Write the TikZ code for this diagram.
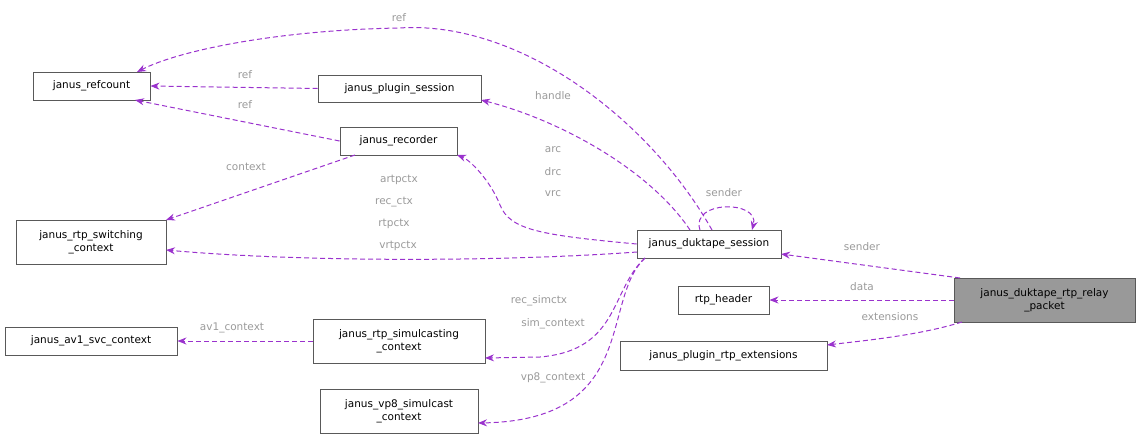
\documentclass[tikz,border=0pt]{standalone}
\usepackage{fontspec}
\setmainfont{DejaVu Sans}
\usetikzlibrary{arrows.meta}
\definecolor{ec}{HTML}{9A32CD}
\definecolor{lc}{HTML}{9A9A9A}
\begin{document}
\begin{tikzpicture}[x=1pt,y=-1pt,font=\fontsize{10.5}{12.5}\selectfont,
 box/.style={draw=black!65,line width=0.9pt,fill=white,inner sep=0pt,align=center},
 e/.style={draw=ec,line width=1pt,dash pattern=on 5pt off 3pt,-{Stealth[length=9pt,width=7pt]}},
 l/.style={text=lc,font=\fontsize{10.5}{12.5}\selectfont}]
\useasboundingbox (0,0) rectangle (1141,439);
\def\bx#1#2#3#4#5#6{\node[box,minimum width=#4-#2,minimum height=#5-#3] (#1) at ({(#2+#4)/2},{(#3+#5)/2}) {#6};}
\bx{rc}{33}{72}{150}{100}{janus\_refcount}
\bx{ps}{318}{75}{481}{102}{janus\_plugin\_session}
\bx{rec}{340}{127}{457}{155}{janus\_recorder}
\bx{sw}{16}{220}{166}{264}{janus\_rtp\_switching\\\_context}
\bx{ds}{637}{230}{781}{258}{janus\_duktape\_session}
\node[box,fill=black!40,minimum width=181,minimum height=44] (rp) at (1044.5,300) {janus\_duktape\_rtp\_relay\\\_packet};
\bx{rh}{678}{286}{769}{314}{rtp\_header}
\bx{ex}{620}{341}{827}{370}{janus\_plugin\_rtp\_extensions}
\bx{av}{5}{327}{177}{355}{janus\_av1\_svc\_context}
\bx{sc}{313}{319}{485}{363}{janus\_rtp\_simulcasting\\\_context}
\bx{vp}{320}{389}{478}{433}{janus\_vp8\_simulcast\\\_context}

\draw[e] (712,230) .. controls (650,120) and (520,20) .. (399,28) .. controls (280,30) and (180,50) .. (137,72);
\node[l] at (399,18) {ref};
\draw[e] (ps.west) -- (rc.east);
\node[l] at (245,75) {ref};
\draw[e] (rec.west) -- (135,100);
\node[l] at (245,105) {ref};
\draw[e] (690,230) .. controls (650,170) and (560,120) .. (481,100);
\node[l] at (553,96) {handle};
\draw[e] (ds.west) .. controls (540,235) and (510,230) .. (500,205) .. controls (490,180) and (470,160) .. (457,155);
\node[l] at (553,150) {arc};
\node[l] at (553,172) {drc};
\node[l] at (553,194) {vrc};
\draw[e] (355,155) -- (166,220);
\node[l] at (246,167) {context};
\draw[e] (637,252) .. controls (500,262) and (300,262) .. (166,250);
\node[l] at (399,180) {artpctx};
\node[l] at (394,202) {rec\_ctx};
\node[l] at (394,224) {rtpctx};
\node[l] at (398,246) {vrtpctx};
\draw[e] (700,230) .. controls (690,200) and (760,200) .. (752,230);
\node[l] at (724,193) {sender};
\draw[e] (960,278) -- (781,254);
\node[l] at (862,247) {sender};
\draw[e] (954,300) -- (rh.east);
\node[l] at (862,287) {data};
\draw[e] (962,322) .. controls (920,335) and (870,340) .. (827,345);
\node[l] at (890,317) {extensions};
\draw[e] (645,258) .. controls (610,290) and (620,350) .. (540,357) -- (485,358);
\node[l] at (539,301) {rec\_simctx};
\node[l] at (553,324) {sim\_context};
\draw[e] (645,258) .. controls (600,300) and (640,420) .. (478,423);
\node[l] at (553,378) {vp8\_context};
\draw[e] (sc.west) -- (av.east);
\node[l] at (232,328) {av1\_context};
\end{tikzpicture}
\end{document}
